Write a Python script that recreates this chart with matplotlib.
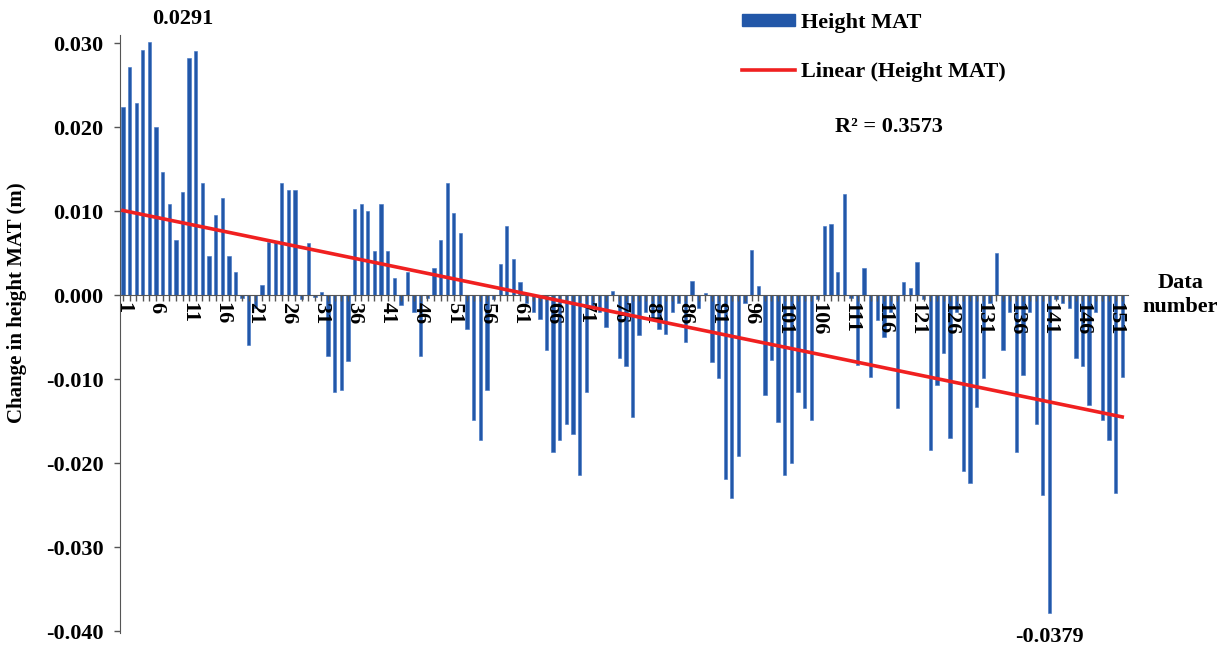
import numpy as np
import matplotlib
matplotlib.use("Agg")
import matplotlib.pyplot as plt
from matplotlib.lines import Line2D
from matplotlib.patches import Patch

# change in height MAT (m) for each data number
height_mat = [
    0.0224, 0.0272, 0.0229, 0.0292, 0.0301, 0.0200, 0.0146, 0.0108, 0.0065, 0.0123,
    0.0282, 0.0290, 0.0133, 0.0046, 0.0095, 0.0115, 0.0046, 0.0027, -0.0003, -0.0060,
    -0.0015, 0.0012, 0.0063, 0.0063, 0.0133, 0.0125, 0.0125, -0.0005, 0.0062, -0.0002,
    0.0004, -0.0072, -0.0115, -0.0113, -0.0078, 0.0102, 0.0108, 0.0100, 0.0052, 0.0108,
    0.0052, 0.0020, -0.0012, 0.0028, -0.0020, -0.0073, -0.0003, 0.0032, 0.0065, 0.0133,
    0.0098, 0.0074, -0.0040, -0.0149, -0.0173, -0.0113, -0.0005, 0.0037, 0.0082, 0.0043,
    0.0015, -0.0010, -0.0020, -0.0028, -0.0066, -0.0187, -0.0172, -0.0154, -0.0165, -0.0214,
    -0.0116, -0.0014, -0.0020, -0.0038, 0.0005, -0.0075, -0.0085, -0.0145, -0.0048, -0.0020,
    -0.0030, -0.0040, -0.0046, -0.0020, -0.0010, -0.0056, 0.0017, -0.0015, 0.0003, -0.0080,
    -0.0099, -0.0219, -0.0242, -0.0192, -0.0010, 0.0054, 0.0011, -0.0119, -0.0077, -0.0151,
    -0.0214, -0.0200, -0.0115, -0.0135, -0.0149, -0.0005, 0.0082, 0.0085, 0.0027, 0.0120,
    -0.0003, -0.0083, 0.0032, -0.0097, -0.0030, -0.0050, -0.0020, -0.0135, 0.0016, 0.0008,
    0.0039, -0.0005, -0.0185, -0.0107, -0.0069, -0.0170, -0.0020, -0.0210, -0.0224, -0.0133,
    -0.0099, -0.0010, 0.0050, -0.0065, -0.0020, -0.0187, -0.0095, -0.0020, -0.0153, -0.0238,
    -0.0379, -0.0005, -0.0010, -0.0016, -0.0075, -0.0085, -0.0131, -0.0020, -0.0149, -0.0173,
    -0.0236, -0.0097,
]
data_number = np.arange(1, len(height_mat) + 1)
y_ticks = [-0.040, -0.030, -0.020, -0.010, 0.000, 0.010, 0.020, 0.030]
r2_text = "R\u00b2 = 0.3573"
max_label = "0.0291"
min_label = "-0.0379"

plt.rcParams["font.family"] = "Liberation Serif"
plt.rcParams["font.weight"] = "bold"
fs = 16

fig = plt.figure(figsize=(12.22, 6.53), dpi=100)
ax = fig.add_axes([0.0982, 0.031, 0.825, 0.916])
ax.set_axisbelow(False)

bar_color = "#2257A8"
ax.bar(data_number, height_mat, width=0.5, color=bar_color, edgecolor="#3E73C4", linewidth=0.4, zorder=2)

# linear trend line
slope, intercept = np.polyfit(data_number, height_mat, 1)
ax.plot(data_number, slope * data_number + intercept, color="#F02020", lw=2.6, zorder=3)

ax.set_xlim(0.55, 152.9)
ax.set_ylim(-0.0402, 0.031)
ax.set_yticks(y_ticks)
ax.set_yticklabels([f"{t:.3f}" for t in y_ticks], fontsize=fs, fontweight="bold")
ax.tick_params(axis="y", length=4, width=1, color="#555555", pad=8)

ax.spines["top"].set_visible(False)
ax.spines["right"].set_visible(False)
ax.spines["left"].set_color("#555555")
ax.spines["bottom"].set_position(("data", 0))
ax.spines["bottom"].set_color("#555555")

major = data_number[::5]
ax.set_xticks(major)
ax.set_xticklabels([str(n) for n in major], rotation=270, fontsize=fs, fontweight="bold")
ax.set_xticks(data_number, minor=True)
ax.tick_params(axis="x", which="both", length=4, width=1, color="#555555", pad=1)

ax.set_ylabel("Change in height MAT (m)", fontsize=15, fontweight="bold")
ax.yaxis.set_label_coords(-0.092, 0.552)

ax.text(10, 0.0328, max_label, ha="center", va="center", fontsize=fs, fontweight="bold", clip_on=False)
ax.text(141, -0.0407, min_label, ha="center", va="center", fontsize=fs, fontweight="bold", clip_on=False)
ax.text(1.052, 0.0, "Data\nnumber", transform=ax.get_yaxis_transform(), ha="center", va="center",
        fontsize=fs, fontweight="bold", clip_on=False, linespacing=1.25)

handles = [Patch(facecolor=bar_color, edgecolor=bar_color),
           Line2D([0], [0], color="#F02020", lw=2.6)]
fig.legend(handles, ["Height MAT", "Linear (Height MAT)"], loc="upper left",
           bbox_to_anchor=(0.600, 0.994), frameon=False, fontsize=fs,
           handlelength=2.4, handleheight=0.45, handletextpad=0.25,
           labelspacing=1.3, borderaxespad=0)
fig.text(0.683, 0.805, r2_text, ha="left", va="center", fontsize=fs, fontweight="bold")

fig.savefig("out.png", dpi=100)
